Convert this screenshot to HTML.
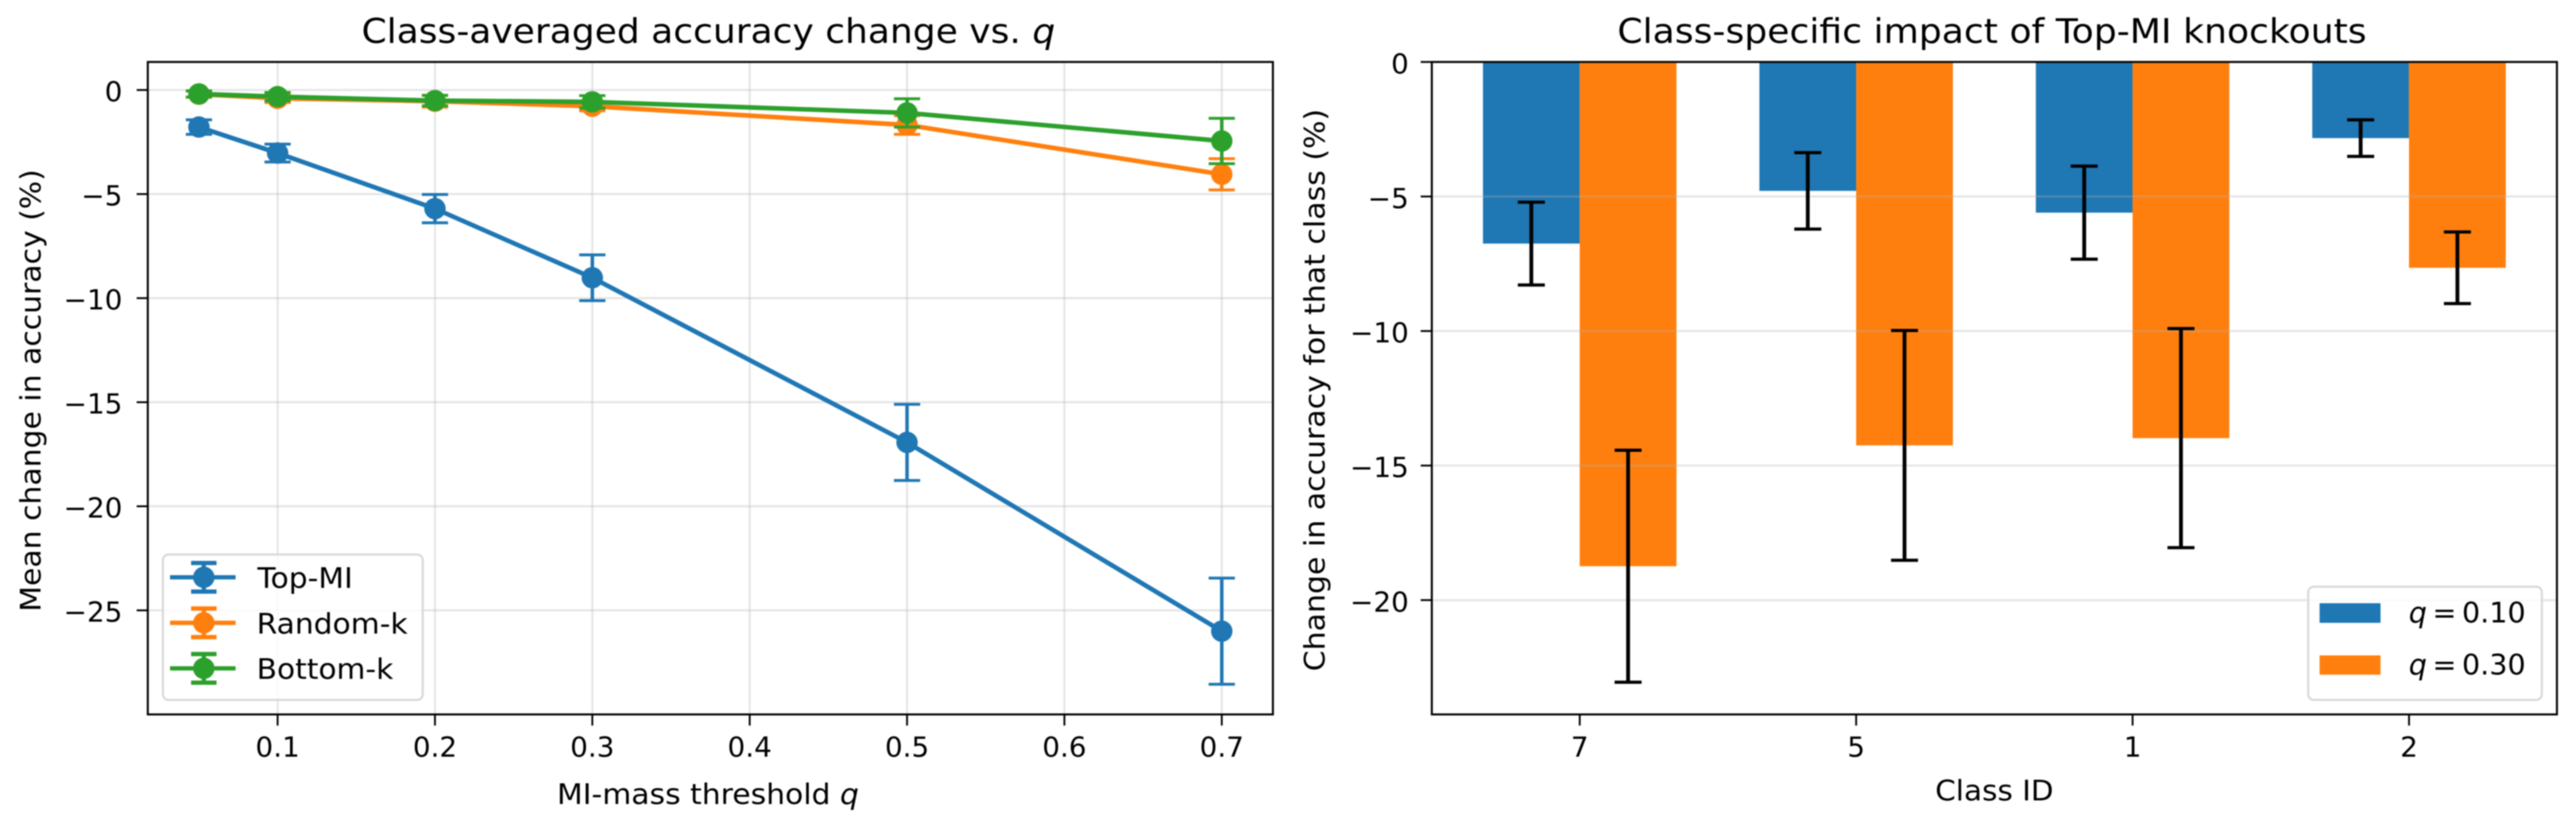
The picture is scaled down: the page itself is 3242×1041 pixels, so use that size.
<!DOCTYPE html>
<html lang="en">
<head>
<meta charset="utf-8">
<title>Top-MI knockout accuracy charts</title>
<style>
html,body{margin:0;padding:0;background:#fff;}
body{width:3242px;height:1041px;overflow:hidden;}
svg{display:block;filter:blur(0.7px);}
text{font-family:"DejaVu Sans","Liberation Sans",sans-serif;fill:#000;}
</style>
</head>
<body>
<svg id="figure" xmlns="http://www.w3.org/2000/svg" width="3242" height="1041" viewBox="0 0 3242 1041">
  <rect x="0" y="0" width="3242" height="1041" fill="#fff"/>

  <g id="left-panel">
    <g id="left-grid"></g>
    <g id="left-series"></g>
    <g id="left-ticks"></g>
    <rect x="186" y="78" width="1416" height="821.3" fill="none" stroke="#000" stroke-width="2.5"/>
    <text x="891.5" y="54" font-size="43" text-anchor="middle" textLength="873" lengthAdjust="spacingAndGlyphs">Class-averaged accuracy change vs. <tspan font-style="italic">q</tspan></text>
    <text x="891" y="1012" font-size="36" text-anchor="middle" textLength="380" lengthAdjust="spacingAndGlyphs">MI-mass threshold <tspan font-style="italic">q</tspan></text>
    <text transform="translate(51,491.5) rotate(-90)" font-size="36" text-anchor="middle" textLength="557" lengthAdjust="spacingAndGlyphs">Mean change in accuracy (%)</text>

    <g>
      <rect x="205" y="698" width="327" height="183" rx="7" fill="#fff" fill-opacity="0.8" stroke="#d6d6d6" stroke-width="2.5"/>
      <g>
        <path d="M214 726.7H296.5M256.5 708.7V744.7M240.5 708.7H272.5M240.5 744.7H272.5" fill="none" stroke="#1f77b4" stroke-width="5.4"/>
        <ellipse cx="256.5" cy="726.7" rx="13.5" ry="13.5" fill="#1f77b4"/>
        <text x="324" y="740" font-size="36" textLength="120" lengthAdjust="spacingAndGlyphs">Top-MI</text>
      </g>
      <g>
        <path d="M214 784H296.5M256.5 766V802M240.5 766H272.5M240.5 802H272.5" fill="none" stroke="#ff7f0e" stroke-width="5.4"/>
        <ellipse cx="256.5" cy="784" rx="13.5" ry="13.5" fill="#ff7f0e"/>
        <text x="323" y="797.3" font-size="36" textLength="190" lengthAdjust="spacingAndGlyphs">Random-k</text>
      </g>
      <g>
        <path d="M214 841.3H296.5M256.5 823.3V859.3M240.5 823.3H272.5M240.5 859.3H272.5" fill="none" stroke="#2ca02c" stroke-width="5.4"/>
        <ellipse cx="256.5" cy="841.3" rx="13.5" ry="13.5" fill="#2ca02c"/>
        <text x="323" y="854.6" font-size="36" textLength="172" lengthAdjust="spacingAndGlyphs">Bottom-k</text>
      </g>
    </g>
  </g>

  <g id="right-panel">
    <g id="right-bars"></g>
    <g id="right-grid"></g>
    <g id="right-errors"></g>
    <g id="right-ticks"></g>
    <rect x="1802" y="78" width="1416" height="821.3" fill="none" stroke="#000" stroke-width="2.5"/>
    <text x="2507" y="54" font-size="43" text-anchor="middle" textLength="943" lengthAdjust="spacingAndGlyphs">Class-specific impact of Top-MI knockouts</text>
    <text x="2510" y="1007.3" font-size="36" text-anchor="middle" textLength="149" lengthAdjust="spacingAndGlyphs">Class ID</text>
    <text transform="translate(1667,491) rotate(-90)" font-size="36" text-anchor="middle" textLength="708" lengthAdjust="spacingAndGlyphs">Change in accuracy for that class (%)</text>

    <g>
      <rect x="2905" y="738.5" width="294" height="142.5" rx="7" fill="#fff" fill-opacity="0.8" stroke="#d6d6d6" stroke-width="2.5"/>
      <g>
        <rect x="2919.3" y="759.3" width="76.7" height="24.7" fill="#1f77b4"/>
        <text x="3178.7" y="783.3" font-size="36" text-anchor="end"><tspan font-style="italic">q</tspan><tspan dx="7">=</tspan><tspan dx="7">0.10</tspan></text>
      </g>
      <g>
        <rect x="2919.3" y="825" width="76.7" height="24.3" fill="#ff7f0e"/>
        <text x="3178.7" y="849" font-size="36" text-anchor="end"><tspan font-style="italic">q</tspan><tspan dx="7">=</tspan><tspan dx="7">0.30</tspan></text>
      </g>
    </g>
  </g>
</svg>

<script>
// ---- Left chart data ----
const qValues = [0.05, 0.1, 0.2, 0.3, 0.5, 0.7];
const topMiMeans = [-1.78, -3.03, -5.70, -9.02, -16.93, -26.00];
const topMiErrors = [0.35, 0.43, 0.68, 1.10, 1.83, 2.55];
const randomKMeans = [-0.20, -0.40, -0.54, -0.78, -1.68, -4.05];
const randomKErrors = [0.15, 0.20, 0.28, 0.22, 0.45, 0.75];
const bottomKMeans = [-0.19, -0.32, -0.51, -0.57, -1.10, -2.45];
const bottomKErrors = [0.15, 0.20, 0.25, 0.30, 0.68, 1.09];
const leftXTicks = [0.1, 0.2, 0.3, 0.4, 0.5, 0.6, 0.7];
const leftXTickLabels = ['0.1', '0.2', '0.3', '0.4', '0.5', '0.6', '0.7'];
const leftYTicks = [0, -5, -10, -15, -20, -25];
const leftYTickLabels = ['0', '\u22125', '\u221210', '\u221215', '\u221220', '\u221225'];

// ---- Right chart data ----
const classIds = ['7', '5', '1', '2'];
const q10Changes = [-6.75, -4.79, -5.60, -2.83];
const q10Errors = [1.54, 1.42, 1.73, 0.68];
const q30Changes = [-18.74, -14.25, -13.98, -7.65];
const q30Errors = [4.31, 4.27, 4.07, 1.33];
const rightYTicks = [0, -5, -10, -15, -20];
const rightYTickLabels = ['0', '\u22125', '\u221210', '\u221215', '\u221220'];

const SVG_NS = 'http://www.w3.org/2000/svg';
const AXES_TOP = 78;
const AXES_BOTTOM = 899.3;
const LEFT_AXES_LEFT = 186;
const LEFT_AXES_RIGHT = 1602;
const RIGHT_AXES_LEFT = 1802;
const RIGHT_AXES_RIGHT = 3218;
const BAR_WIDTH = 0.35;

function leftX(q) {
  return LEFT_AXES_LEFT + (q - 0.0175) / (0.7325 - 0.0175) * (LEFT_AXES_RIGHT - LEFT_AXES_LEFT);
}
function leftY(v) {
  return 113.3 - v * 26.2;
}
function rightX(i) {
  return RIGHT_AXES_LEFT + (i + 0.535) / 4.07 * (RIGHT_AXES_RIGHT - RIGHT_AXES_LEFT);
}
function rightY(v) {
  return AXES_TOP - v * 33.87;
}
function shape(tag, parent) {
  const el = document.createElementNS(SVG_NS, tag);
  parent.appendChild(el);
  return el;
}
function setLine(el, x1, y1, x2, y2, color, width) {
  el.setAttribute('x1', x1);
  el.setAttribute('y1', y1);
  el.setAttribute('x2', x2);
  el.setAttribute('y2', y2);
  el.setAttribute('stroke', color);
  el.setAttribute('stroke-width', width);
}

const leftGrid = document.getElementById('left-grid');
const leftSeriesGroup = document.getElementById('left-series');
const leftTicksGroup = document.getElementById('left-ticks');
const rightBars = document.getElementById('right-bars');
const rightGrid = document.getElementById('right-grid');
const rightErrors = document.getElementById('right-errors');
const rightTicksGroup = document.getElementById('right-ticks');

const GRID_COLOR = '#b0b0b0';
const GRID_OPACITY = 0.32;
const GRID_WIDTH = 2.6;
const TICK_WIDTH = 2.3;
const TICK_LENGTH = 14;

// left x grid + ticks
leftXTicks.forEach(function (t, i) {
  const x = leftX(t);
  const g = shape('line', leftGrid);
  
  
  setLine(g, x, AXES_TOP, x, AXES_BOTTOM, GRID_COLOR, GRID_WIDTH);
  g.setAttribute('stroke-opacity', GRID_OPACITY);

  const tick = shape('line', leftTicksGroup);
  
  
  setLine(tick, x, AXES_BOTTOM, x, AXES_BOTTOM + TICK_LENGTH, '#000', TICK_WIDTH);

  const label = shape('text', leftTicksGroup);
  
  
  label.setAttribute('x', x);
  label.setAttribute('y', 952.7);
  label.setAttribute('font-size', 35);
  label.setAttribute('text-anchor', 'middle');
  label.textContent = leftXTickLabels[i];
});

// left y grid + ticks
leftYTicks.forEach(function (t, i) {
  const y = leftY(t);
  const g = shape('line', leftGrid);
  
  
  setLine(g, LEFT_AXES_LEFT, y, LEFT_AXES_RIGHT, y, GRID_COLOR, GRID_WIDTH);
  g.setAttribute('stroke-opacity', GRID_OPACITY);

  const tick = shape('line', leftTicksGroup);
  
  
  setLine(tick, LEFT_AXES_LEFT - TICK_LENGTH, y, LEFT_AXES_LEFT, y, '#000', TICK_WIDTH);

  const label = shape('text', leftTicksGroup);
  
  
  label.setAttribute('x', 154);
  label.setAttribute('y', y + 14);
  label.setAttribute('font-size', 35);
  label.setAttribute('text-anchor', 'end');
  label.textContent = leftYTickLabels[i];
});

// left series
function drawSeries(seriesName, color, means, errors) {
  const path = shape('polyline', leftSeriesGroup);
  
  
  path.setAttribute('points', qValues.map(function (q, i) {
    return leftX(q) + ',' + leftY(means[i]);
  }).join(' '));
  path.setAttribute('fill', 'none');
  path.setAttribute('stroke', color);
  path.setAttribute('stroke-width', 5.8);

  qValues.forEach(function (q, i) {
    const x = leftX(q);
    const top = leftY(means[i] + errors[i]);
    const bottom = leftY(means[i] - errors[i]);

    const stem = shape('line', leftSeriesGroup);
    
    
    setLine(stem, x, top, x, bottom, color, 4.4);

    const capTop = shape('line', leftSeriesGroup);
    
    
    setLine(capTop, x - 16.5, top, x + 16.5, top, color, 3.6);

    const capBottom = shape('line', leftSeriesGroup);
    
    
    setLine(capBottom, x - 16.5, bottom, x + 16.5, bottom, color, 3.6);

    const marker = shape('ellipse', leftSeriesGroup);
    
    
    marker.setAttribute('cx', x);
    marker.setAttribute('cy', leftY(means[i]));
    marker.setAttribute('rx', 13.5);
    marker.setAttribute('ry', 13.5);
    marker.setAttribute('fill', color);
  });
}
drawSeries('top-mi', '#1f77b4', topMiMeans, topMiErrors);
drawSeries('random-k', '#ff7f0e', randomKMeans, randomKErrors);
drawSeries('bottom-k', '#2ca02c', bottomKMeans, bottomKErrors);

// right y grid + ticks
rightYTicks.forEach(function (t, i) {
  const y = rightY(t);
  const g = shape('line', rightGrid);
  
  
  setLine(g, RIGHT_AXES_LEFT, y, RIGHT_AXES_RIGHT, y, GRID_COLOR, GRID_WIDTH);
  g.setAttribute('stroke-opacity', GRID_OPACITY);

  const tick = shape('line', rightTicksGroup);
  
  
  setLine(tick, RIGHT_AXES_LEFT - TICK_LENGTH, y, RIGHT_AXES_LEFT, y, '#000', TICK_WIDTH);

  const label = shape('text', rightTicksGroup);
  
  
  label.setAttribute('x', 1773);
  label.setAttribute('y', y + 14.5);
  label.setAttribute('font-size', 35);
  label.setAttribute('text-anchor', 'end');
  label.textContent = rightYTickLabels[i];
});

// right bars, error bars, x ticks
function drawBarWithError(seriesName, color, xLeft, value, error, xWidth) {
  const bar = shape('rect', rightBars);
  
  
  bar.setAttribute('x', xLeft);
  bar.setAttribute('y', rightY(0));
  bar.setAttribute('width', xWidth);
  bar.setAttribute('height', rightY(value) - rightY(0));
  bar.setAttribute('fill', color);

  const cx = xLeft + xWidth / 2;
  const top = rightY(value + error);
  const bottom = rightY(value - error);

  const stem = shape('line', rightErrors);
  
  
  setLine(stem, cx, top, cx, bottom, '#000', 4.8);

  const capTop = shape('line', rightErrors);
  
  
  setLine(capTop, cx - 17, top, cx + 17, top, '#000', 4);

  const capBottom = shape('line', rightErrors);
  
  
  setLine(capBottom, cx - 17, bottom, cx + 17, bottom, '#000', 4);
}

classIds.forEach(function (id, i) {
  const x = rightX(i);
  const w = rightX(i + BAR_WIDTH) - x;
  drawBarWithError('class-' + id + '-q-010', '#1f77b4', x - w, q10Changes[i], q10Errors[i], w);
  drawBarWithError('class-' + id + '-q-030', '#ff7f0e', x, q30Changes[i], q30Errors[i], w);

  const tick = shape('line', rightTicksGroup);
  
  
  setLine(tick, x, AXES_BOTTOM, x, AXES_BOTTOM + TICK_LENGTH, '#000', TICK_WIDTH);

  const label = shape('text', rightTicksGroup);
  
  
  label.setAttribute('x', x);
  label.setAttribute('y', 952.7);
  label.setAttribute('font-size', 35);
  label.setAttribute('text-anchor', 'middle');
  label.textContent = id;
});
</script>
</body>
</html>
